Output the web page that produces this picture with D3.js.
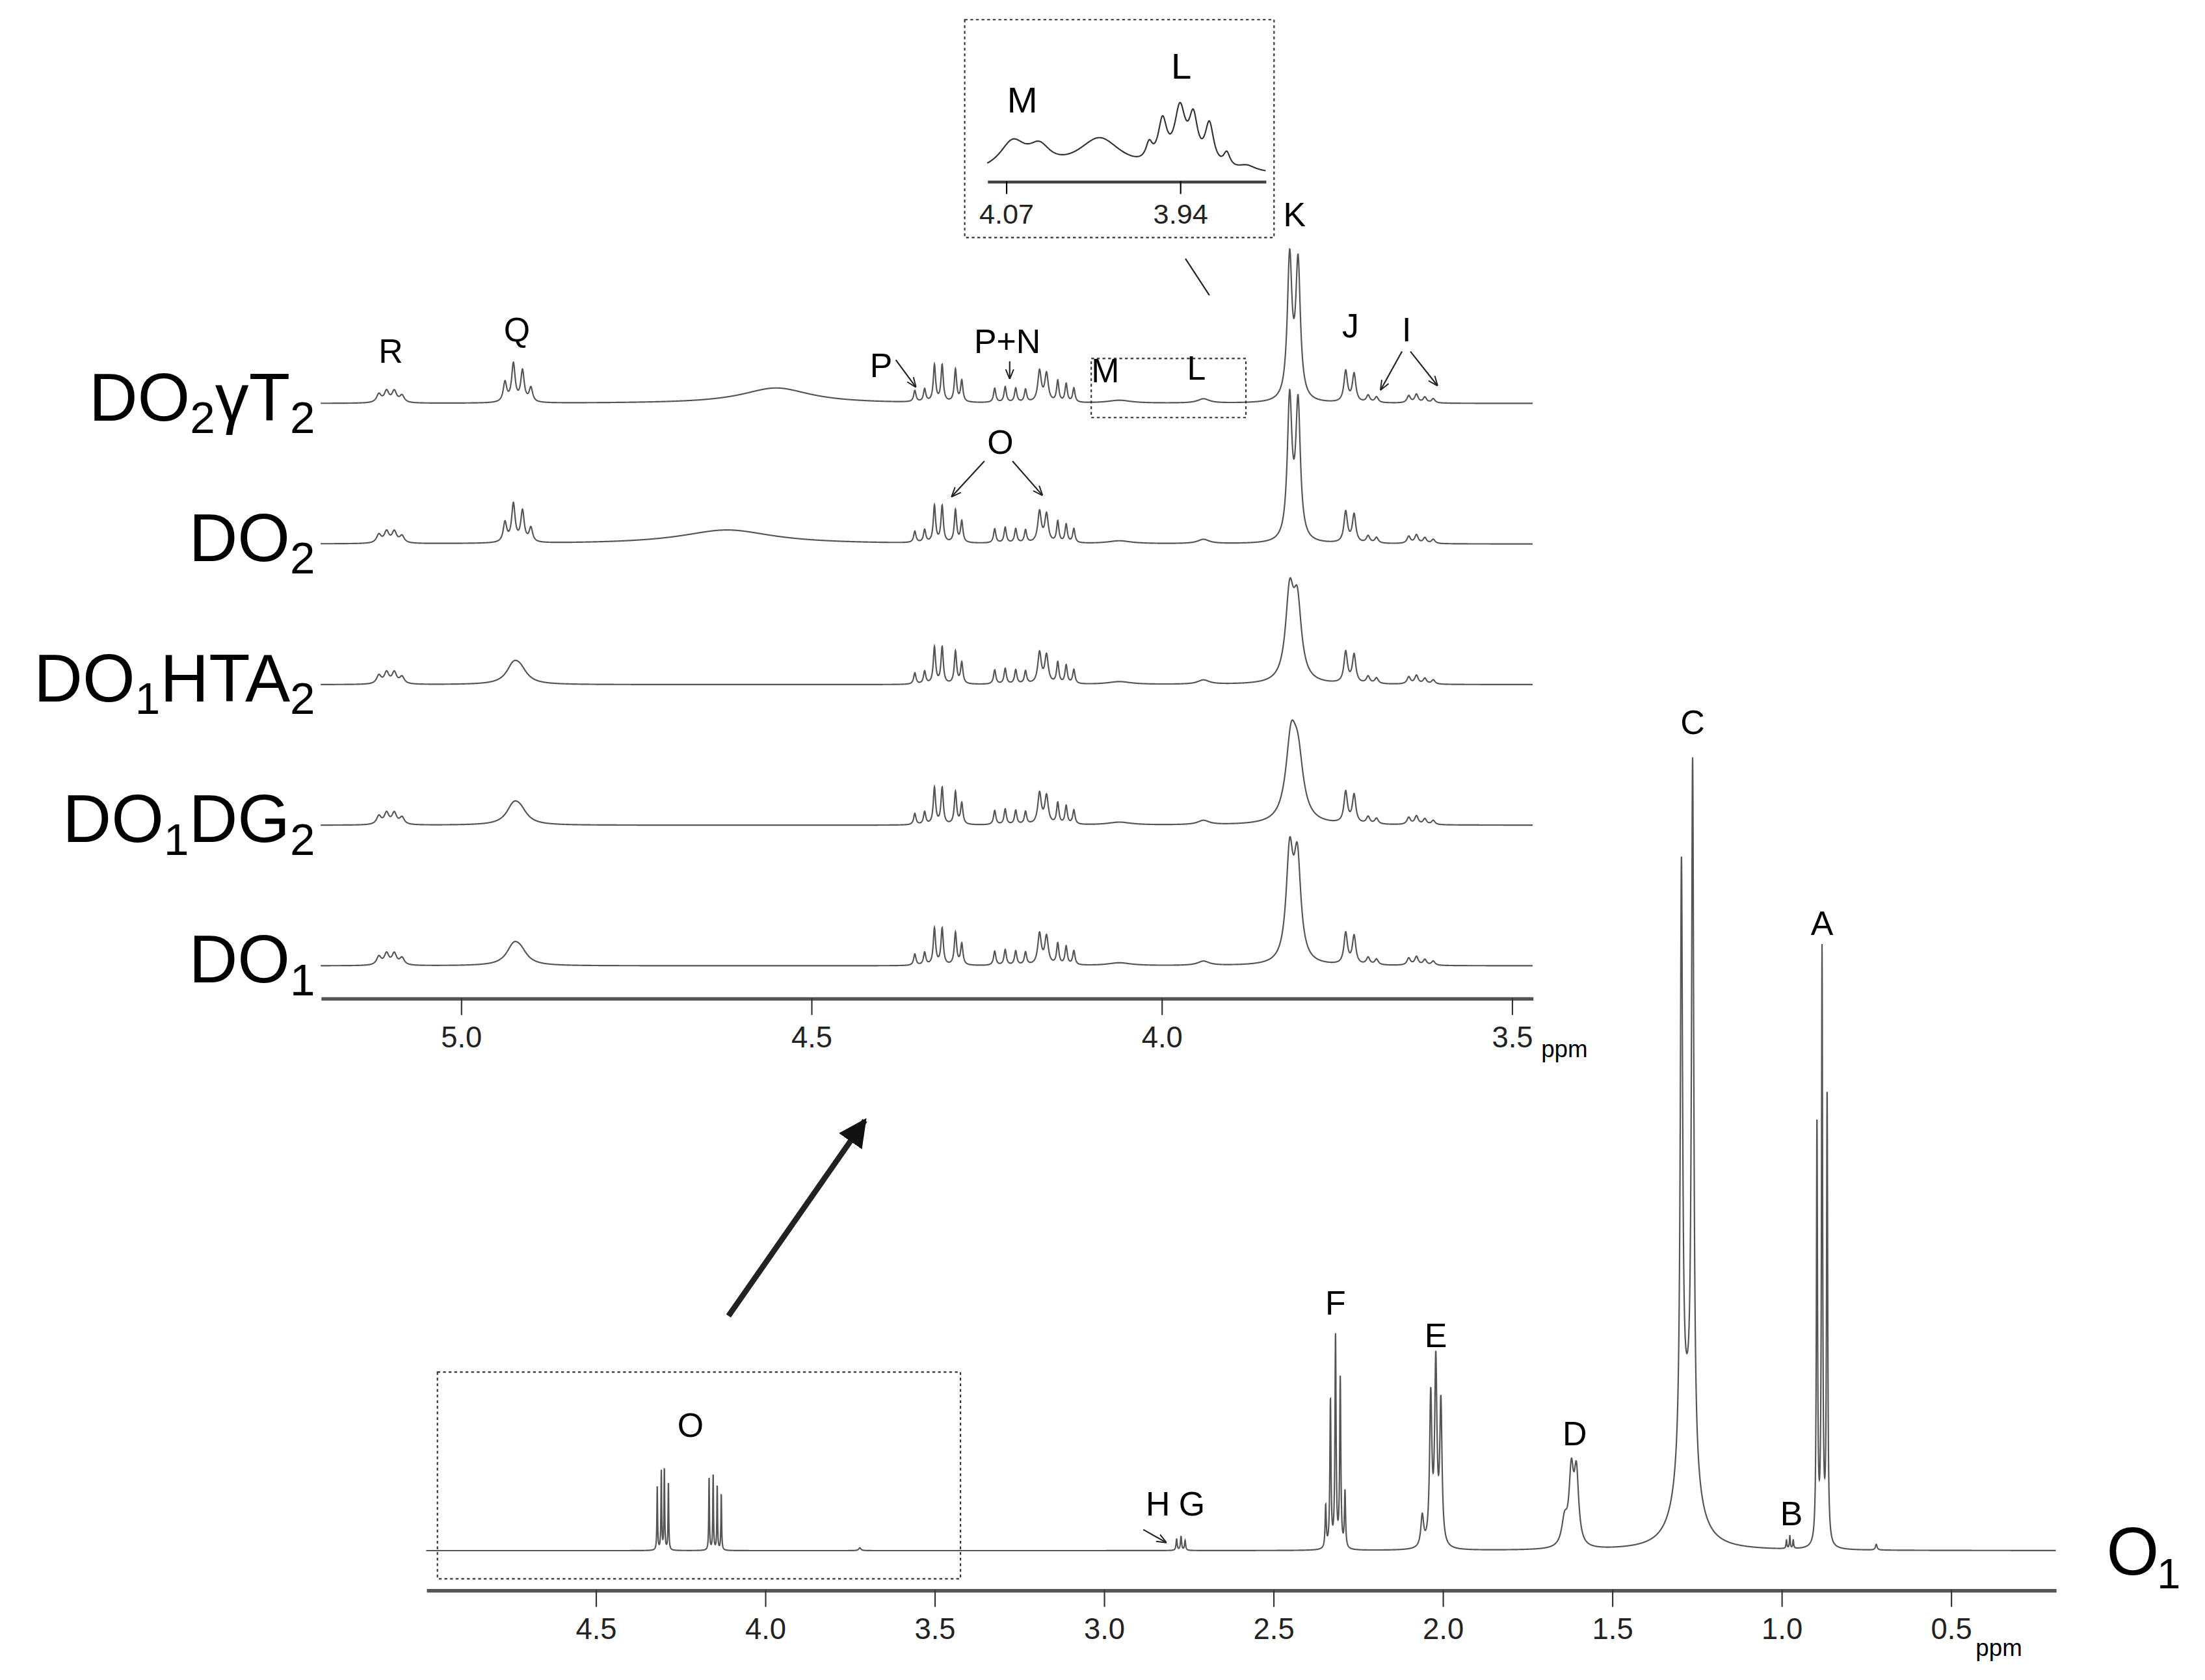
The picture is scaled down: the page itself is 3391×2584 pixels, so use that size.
<!DOCTYPE html>
<meta charset="utf-8">
<body style="margin:0;background:#fff">
<script src="https://cdn.jsdelivr.net/npm/d3@7/dist/d3.min.js"></script>
<script>
// peak lists: [ppm, height, halfwidth(ppm)]
var o1Peaks = [
  [4.318,45,0.0012],[4.306,56,0.0012],[4.297,58,0.0012],[4.285,48,0.0012],
  [4.165,52,0.0012],[4.153,54,0.0012],[4.141,46,0.0012],[4.129,40,0.0012],
  [3.72,2,0.004],[2.785,8,0.002],[2.772,10,0.002],[2.76,7,0.002],
  [2.345,30,0.002],[2.331,105,0.002],[2.316,150,0.002],[2.302,120,0.002],[2.288,40,0.002],
  [2.06,22,0.005],[2.035,105,0.004],[2.02,128,0.004],[2.005,100,0.004],
  [1.64,18,0.01],[1.62,50,0.008],[1.605,50,0.008],
  [1.295,415,0.004],[1.262,492,0.004],[1.28,90,0.03],
  [0.985,6,0.0015],[0.975,9,0.0015],[0.965,6,0.0015],
  [0.895,300,0.002],[0.88,420,0.002],[0.865,320,0.002],[0.72,4,0.003]
];
var rPeaks = [[5.117,6,0.004],[5.106,8,0.004],[5.095,8,0.004],[5.084,5,0.004]];
var qSharp = [[4.937,14,0.003],[4.925,27,0.003],[4.912,22,0.003],[4.9,10,0.003]];
var qBroad = [[4.925,12,0.012],[4.915,8,0.012]];
var glyPeaks = [
  [4.352,8,0.002],[4.338,9,0.002],[4.324,26,0.002],[4.313,26,0.002],[4.294,23,0.002],[4.285,15,0.002],
  [4.238,10,0.002],[4.223,11,0.002],[4.208,10,0.002],[4.194,9,0.002],
  [4.174,22,0.003],[4.164,20,0.003],[4.148,15,0.002],[4.136,13,0.002],[4.125,10,0.002]
];
var kSharp = [[3.817,100,0.004],[3.805,96,0.004]];
var kBroad = [[3.817,60,0.007],[3.806,52,0.007]];
var jiPeaks = [[3.737,22,0.003],[3.725,20,0.003],[3.705,5,0.003],[3.693,4,0.003],
  [3.647,5,0.003],[3.636,6,0.003],[3.624,4,0.003],[3.612,3,0.003],[3.94,3,0.01],[4.06,2,0.02]];
var spectra = [
  {name:"DO2γT2", peaks:rPeaks.concat(qSharp, glyPeaks, kSharp, jiPeaks, [[4.55,11,0.06]])},
  {name:"DO2", peaks:rPeaks.concat(qSharp, glyPeaks, kSharp, jiPeaks, [[4.62,10,0.08]])},
  {name:"DO1HTA2", peaks:rPeaks.concat(qBroad, glyPeaks, kBroad, jiPeaks)},
  {name:"DO1DG2", peaks:rPeaks.concat(qBroad, glyPeaks, [[3.815,55,0.009],[3.805,40,0.009]], jiPeaks)},
  {name:"DO1", peaks:rPeaks.concat(qBroad, glyPeaks, [[3.817,75,0.006],[3.806,70,0.006]], jiPeaks)}
];
var insetPeaks = [[4.065,20,0.012],[4.045,14,0.01],[4.0,24,0.02],[3.963,12,0.003],
  [3.953,30,0.004],[3.94,40,0.005],[3.93,32,0.004],[3.918,30,0.004],[3.905,10,0.003],[3.89,4,0.008]];
var bottomTicks = [4.5,4.0,3.5,3.0,2.5,2.0,1.5,1.0,0.5];
var topTicks = [5.0,4.5,4.0,3.5];
var insetTicks = [4.07,3.94];

function spectrum(peaks, lo, hi, step) {
  var pts = [];
  for (var x = hi; x >= lo; x -= step) {
    var y = 0;
    peaks.forEach(function(p) { var d = x - p[0]; y += p[1]*p[2]*p[2]/(d*d + p[2]*p[2]); });
    pts.push([x, y]);
  }
  return pts;
}

var svg = d3.select("body").append("svg")
  .attr("width", 3391).attr("height", 2584).attr("viewBox", "0 0 1568 1195")
  .style("font-family", "'Liberation Sans', Arial, sans-serif");

function axis(g, x, y, ticks, fmt, fs) {
  var a = g.append("g").attr("transform", "translate(0," + y + ")")
    .call(d3.axisBottom(x).tickValues(ticks).tickFormat(fmt).tickSize(12).tickSizeOuter(0));
  a.select(".domain").attr("stroke", "#555").attr("stroke-width", 2.5);
  a.selectAll(".tick line").attr("stroke", "#333");
  a.selectAll("text").attr("font-size", fs).attr("fill", "#222").attr("font-family", "inherit").attr("dy", "0.95em");
}

// bottom panel
var xb = d3.scaleLinear().domain([5.0, 0.19]).range([303, 1462]);
var yb = d3.scaleLinear().domain([0, 600]).range([1103, 503]);
svg.append("path").datum(spectrum(o1Peaks, 0.19, 5.0, 0.0004))
  .attr("fill", "none").attr("stroke", "#555").attr("stroke-width", 1)
  .attr("d", d3.line().x(function(d){return xb(d[0]);}).y(function(d){return yb(d[1]);}));
axis(svg, xb, 1131, bottomTicks, d3.format(".1f"), 21);
svg.append("text").attr("x", 1405).attr("y", 1178).attr("font-size", 17).text("ppm");
svg.append("text").attr("x", 1498).attr("y", 1120).attr("font-size", 48).text("O");
svg.append("text").attr("x", 1534).attr("y", 1130).attr("font-size", 30).text("1");
svg.append("rect").attr("x", 311).attr("y", 976).attr("width", 372).attr("height", 147)
  .attr("fill", "none").attr("stroke", "#333").attr("stroke-dasharray", "2,2");
var blabels = [["O",4.22,1022],["H",2.84,1078],["G",2.74,1078],["F",2.316,935],["E",2.02,958],
  ["D",1.61,1028],["C",1.262,522],["B",0.97,1085],["A",0.88,665]];
blabels.forEach(function(l){
  svg.append("text").attr("x", xb(l[1])).attr("y", l[2]).attr("text-anchor","middle").attr("font-size",24).text(l[0]);
});
svg.append("defs").append("marker").attr("id","ah").attr("viewBox","0 0 10 10").attr("refX",9).attr("refY",5)
  .attr("markerWidth",7).attr("markerHeight",7).attr("orient","auto")
  .append("path").attr("d","M0,1 L10,5 L0,9").attr("fill","none").attr("stroke","#222").attr("stroke-width",1.3);
svg.append("defs").append("marker").attr("id","big").attr("viewBox","0 0 10 10").attr("refX",9).attr("refY",5)
  .attr("markerWidth",5).attr("markerHeight",5).attr("orient","auto")
  .append("path").attr("d","M0,0 L10,5 L0,10 Z").attr("fill","#111");
function arrow(x1,y1,x2,y2,w,m){
  svg.append("line").attr("x1",x1).attr("y1",y1).attr("x2",x2).attr("y2",y2)
    .attr("stroke","#222").attr("stroke-width",w||1).attr("marker-end","url(#"+(m||"ah")+")");
}
arrow(518,936,615,797,4,"big");
arrow(813,1088,829,1097);

// top panel
var xt = d3.scaleLinear().domain([5.2, 3.47]).range([228, 1090]);
axis(svg, xt, 710, topTicks, d3.format(".1f"), 21);
svg.append("text").attr("x", 1096).attr("y", 752).attr("font-size", 17).text("ppm");
var names = [["DO","2","γT","2"],["DO","2"],["DO","1","HTA","2"],["DO","1","DG","2"],["DO","1"]];
spectra.forEach(function(s, i) {
  var base = 287 + i*100;
  var yt = d3.scaleLinear().domain([0,100]).range([base, base-100]);
  svg.append("path").datum(spectrum(s.peaks, 3.47, 5.2, 0.0003))
    .attr("fill","none").attr("stroke","#555").attr("stroke-width",1)
    .attr("d", d3.line().x(function(d){return xt(d[0]);}).y(function(d){return yt(d[1]);}));
  var t = svg.append("text").attr("x", 224).attr("y", base+12).attr("text-anchor","end").attr("font-size",48);
  names[i].forEach(function(p, j){
    t.append("tspan").attr("font-size", j%2 ? 32 : 48).attr("dy", j%2 ? 9 : (j ? -9 : 0)).text(p);
  });
});
var tlabels = [["R",5.1,258],["Q",4.92,243],["P",4.4,268],["P+N",4.22,251],["M",4.08,272],["L",3.95,270],
  ["K",3.81,161],["J",3.73,240],["I",3.65,243],["O",4.23,323]];
tlabels.forEach(function(l){
  svg.append("text").attr("x", xt(l[1])).attr("y", l[2]).attr("text-anchor","middle").attr("font-size",24).text(l[0]);
});
arrow(637,256,651,275);
arrow(718,257,718,269);
arrow(700,328,677,353);
arrow(720,328,741,352);
arrow(997,250,982,277);
arrow(1003,250,1022,274);
svg.append("rect").attr("x", 776).attr("y", 255).attr("width", 110).attr("height", 42)
  .attr("fill","none").attr("stroke","#333").attr("stroke-dasharray","2,2");
svg.append("line").attr("x1",860).attr("y1",210).attr("x2",843).attr("y2",184).attr("stroke","#222");

// inset
svg.append("rect").attr("x", 686).attr("y", 14).attr("width", 220).attr("height", 155)
  .attr("fill","#fff").attr("stroke","#333").attr("stroke-dasharray","2,2");
var xi = d3.scaleLinear().domain([4.084, 3.876]).range([702, 900]);
var yi = d3.scaleLinear().domain([0,50]).range([124, 74]);
svg.append("path").datum(spectrum(insetPeaks, 3.876, 4.084, 0.0004))
  .attr("fill","none").attr("stroke","#333").attr("stroke-width",1)
  .attr("d", d3.line().x(function(d){return xi(d[0]);}).y(function(d){return yi(d[1]);}));
var ia = svg.append("g").attr("transform","translate(0,129)")
  .call(d3.axisBottom(xi).tickValues(insetTicks).tickFormat(d3.format(".2f")).tickSize(9).tickSizeOuter(0));
ia.select(".domain").attr("stroke","#444").attr("stroke-width",2);
ia.selectAll("text").attr("font-size",20).attr("fill","#222").attr("font-family","inherit").attr("dy","0.9em");
svg.append("text").attr("x",727).attr("y",80).attr("text-anchor","middle").attr("font-size",26).text("M");
svg.append("text").attr("x",840).attr("y",56).attr("text-anchor","middle").attr("font-size",26).text("L");
</script>
</body>
